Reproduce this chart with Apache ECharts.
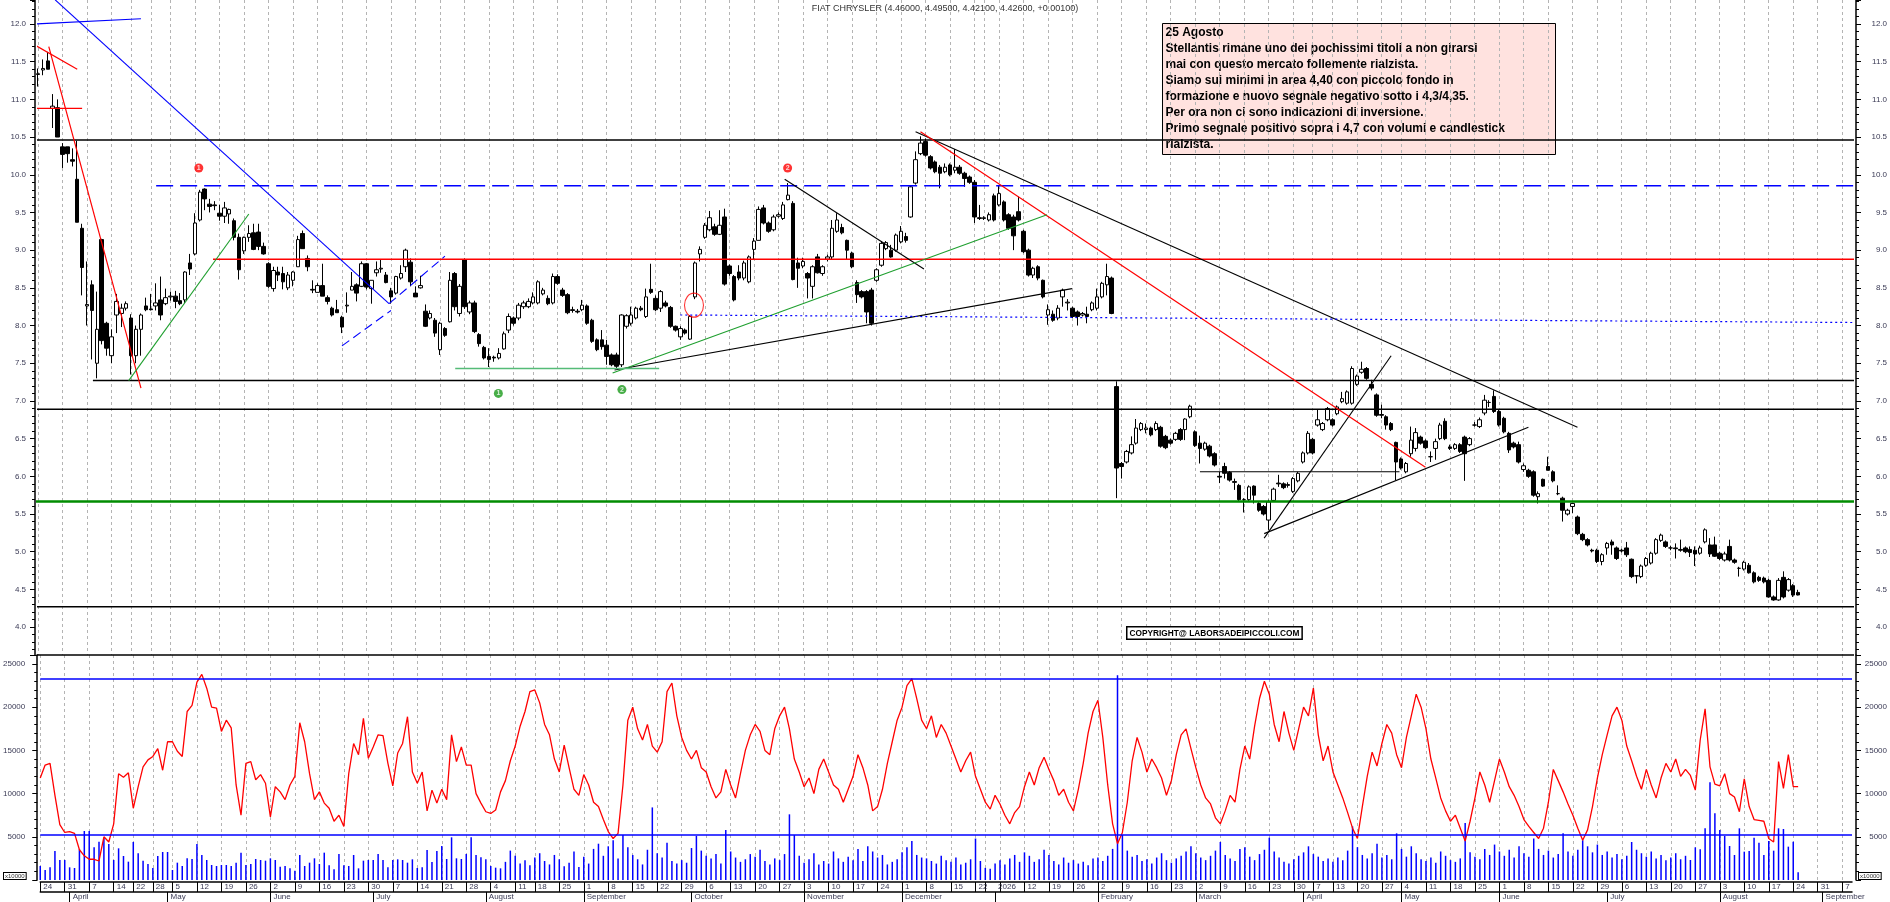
<!DOCTYPE html>
<html><head><meta charset="utf-8">
<script src="https://cdn.jsdelivr.net/npm/echarts@6.0.0/dist/echarts.min.js"></script>
<style>html,body{margin:0;padding:0;background:#fff;}#c{width:1890px;height:902px;}</style>
</head><body><div id="c"></div>
<script>
// ---------- DATA ----------
const firstDay = '2025-03-24';
const categoryCount = 371;
const holidays = ['2025-04-18','2025-04-21','2025-05-01','2025-08-15','2025-12-24','2025-12-25','2025-12-26','2025-12-31','2026-01-01','2026-04-03','2026-04-06','2026-05-01'];
const monthNames = ['','February','March','April','May','June','July','August','September','October','November','December'];
const titleName = 'FIAT CHRYSLER';

// daily candles [open, high, low, close]
const candles = [
[11.33,11.41,11.17,11.34],[11.39,11.53,11.32,11.41],[11.51,11.63,11.40,11.40],[10.88,11.07,10.62,10.91],[10.89,11.00,10.50,10.50],
[10.37,10.42,10.09,10.27],[10.37,10.37,10.16,10.28],[10.20,10.35,10.11,10.18],[9.94,10.45,9.37,9.37],[9.29,9.35,8.40,8.77],
[8.26,8.85,8.00,8.28],[8.54,8.60,7.55,8.20],[7.50,8.45,7.30,7.95],[9.14,9.15,7.75,7.80],[8.03,8.05,7.60,7.70],
[7.60,7.95,7.50,7.85],[8.14,8.42,7.90,8.32],[8.16,8.29,7.98,8.23],[8.23,8.32,8.20,8.29],[8.10,8.15,7.35,7.60],
[7.60,8.00,7.50,7.95],[7.95,8.16,7.60,8.14],[8.26,8.37,8.19,8.21],[8.22,8.42,8.20,8.21],[8.26,8.56,8.20,8.30],
[8.34,8.65,8.07,8.14],[8.29,8.49,8.27,8.37],[8.38,8.45,8.33,8.39],[8.39,8.46,8.23,8.32],[8.33,8.43,8.27,8.29],
[8.34,8.72,8.30,8.71],[8.83,8.95,8.67,8.75],[8.95,9.49,8.93,9.36],[9.40,9.80,9.38,9.77],[9.81,9.82,9.53,9.68],
[9.61,9.68,9.50,9.58],[9.60,9.65,9.53,9.59],[9.49,9.60,9.39,9.45],[9.45,9.64,9.36,9.56],[9.48,9.55,9.35,9.54],
[9.39,9.42,9.13,9.17],[9.17,9.22,8.61,8.74],[8.99,9.18,8.95,9.17],[9.17,9.33,9.11,9.22],[9.23,9.35,9.00,9.01],
[9.24,9.35,9.00,9.05],[9.05,9.10,8.94,8.95],[8.82,8.84,8.50,8.52],[8.49,8.78,8.45,8.73],[8.71,8.78,8.59,8.67],
[8.69,8.78,8.48,8.58],[8.50,8.71,8.47,8.67],[8.60,8.72,8.52,8.71],[8.78,9.19,8.78,9.14],[9.22,9.26,9.02,9.02],
[8.89,8.93,8.72,8.78],[8.48,8.60,8.43,8.47],[8.44,8.56,8.44,8.53],[8.53,8.82,8.39,8.39],[8.37,8.40,8.28,8.32],
[8.23,8.25,8.12,8.14],[8.21,8.34,8.17,8.17],[8.11,8.13,7.90,7.98],[8.26,8.44,8.17,8.27],[8.47,8.71,8.47,8.52],
[8.54,8.56,8.32,8.43],[8.52,8.85,8.51,8.82],[8.82,8.83,8.48,8.51],[8.49,8.60,8.29,8.60],[8.70,8.85,8.65,8.74],
[8.75,8.88,8.70,8.76],[8.67,8.71,8.56,8.57],[8.46,8.50,8.29,8.38],[8.43,8.66,8.41,8.65],[8.63,8.80,8.61,8.69],
[8.78,9.02,8.71,9.00],[8.84,8.89,8.52,8.58],[8.43,8.52,8.38,8.38],[8.50,8.66,8.49,8.53],[8.19,8.28,7.98,7.99],
[8.10,8.20,8.08,8.16],[8.07,8.10,7.85,7.90],[7.68,8.05,7.61,8.03],[7.96,7.98,7.85,7.87],[8.05,8.71,8.04,8.60],
[8.69,8.71,8.20,8.25],[8.16,8.55,8.12,8.52],[8.87,8.89,8.22,8.25],[8.18,8.33,8.15,8.30],[8.30,8.33,7.90,7.92],
[7.88,7.90,7.72,7.76],[7.71,7.73,7.55,7.57],[7.59,7.70,7.45,7.55],[7.58,7.60,7.52,7.57],[7.57,7.70,7.55,7.63],
[7.69,7.92,7.68,7.89],[7.94,8.16,7.90,8.12],[8.10,8.12,8.00,8.03],[8.10,8.30,8.07,8.27],[8.25,8.33,8.22,8.30],
[8.25,8.36,8.23,8.32],[8.30,8.44,8.28,8.38],[8.30,8.60,8.28,8.58],[8.42,8.50,8.40,8.47],[8.36,8.40,8.27,8.29],
[8.30,8.69,8.28,8.65],[8.65,8.68,8.54,8.56],[8.47,8.50,8.38,8.40],[8.41,8.43,8.15,8.17],[8.21,8.25,8.17,8.20],
[8.19,8.22,8.16,8.18],[8.21,8.34,8.19,8.27],[8.26,8.28,8.01,8.03],[8.07,8.09,7.77,7.79],[7.81,7.83,7.66,7.68],
[7.81,7.94,7.68,7.72],[7.74,7.81,7.48,7.59],[7.61,7.63,7.46,7.48],[7.61,7.64,7.43,7.46],[7.48,8.15,7.45,8.14],
[7.99,8.15,7.96,8.13],[8.03,8.25,8.00,8.14],[8.10,8.25,8.08,8.23],[8.23,8.26,8.19,8.21],[8.12,8.49,8.10,8.38],
[8.48,8.82,8.42,8.44],[8.36,8.40,8.19,8.21],[8.23,8.47,8.18,8.45],[8.30,8.33,8.24,8.26],[8.24,8.26,7.97,7.99],
[7.99,8.00,7.92,7.94],[7.85,7.99,7.81,7.96],[7.94,7.96,7.88,7.90],[7.82,8.14,7.81,8.12],[8.38,8.85,8.35,8.83],
[8.95,9.05,8.85,9.01],[9.17,9.36,9.15,9.33],[9.27,9.52,9.25,9.43],[9.31,9.35,9.19,9.21],[9.21,9.53,9.20,9.33],
[9.44,9.55,8.53,8.55],[8.79,8.81,8.66,8.69],[8.65,8.67,8.32,8.34],[8.71,8.80,8.60,8.63],[8.63,8.86,8.60,8.83],
[8.58,8.93,8.56,8.91],[9.01,9.16,8.87,9.12],[9.13,9.58,9.13,9.54],[9.56,9.60,9.34,9.36],[9.36,9.38,9.23,9.25],
[9.27,9.47,9.25,9.44],[9.45,9.50,9.43,9.47],[9.42,9.64,9.40,9.60],[9.67,9.89,9.66,9.73],[9.62,9.65,8.60,8.61],
[8.83,8.90,8.50,8.76],[8.79,8.90,8.76,8.85],[8.69,8.71,8.36,8.63],[8.52,8.80,8.36,8.78],[8.91,8.95,8.69,8.70],
[8.69,8.80,8.66,8.78],[8.88,8.94,8.85,8.91],[8.91,9.40,8.88,9.29],[9.25,9.49,9.23,9.40],[9.30,9.35,9.21,9.23],
[9.13,9.14,8.87,9.00],[8.96,8.98,8.76,8.78],[8.57,8.60,8.30,8.41],[8.45,8.47,8.36,8.38],[8.45,8.47,8.03,8.18],
[8.47,8.50,8.00,8.03],[8.60,8.76,8.58,8.74],[8.80,9.12,8.78,9.09],[9.02,9.12,9.00,9.10],[9.00,9.07,8.90,8.91],
[9.00,9.22,8.98,9.20],[9.11,9.32,9.09,9.25],[9.18,9.23,9.10,9.13],[9.44,9.86,9.43,9.84],[9.89,10.31,9.87,10.20],
[10.28,10.51,10.26,10.42],[10.44,10.48,10.24,10.26],[10.24,10.26,10.07,10.09],[10.17,10.19,10.02,10.04],[10.10,10.13,9.82,10.02],
[10.04,10.15,10.02,10.10],[10.13,10.15,9.98,10.00],[10.06,10.34,10.02,10.10],[10.10,10.13,10.00,10.02],[10.02,10.04,9.84,9.95],
[9.97,9.99,9.88,9.90],[9.90,9.93,9.36,9.44],[9.43,9.60,9.40,9.42],[9.42,9.45,9.40,9.43],[9.40,9.50,9.38,9.47],
[9.72,9.75,9.38,9.40],[9.60,9.86,9.58,9.75],[9.64,9.66,9.38,9.40],[9.47,9.49,9.27,9.29],[9.44,9.47,9.00,9.19],
[9.51,9.71,9.38,9.40],[9.25,9.27,8.96,8.98],[9.00,9.02,8.65,8.67],[8.67,8.78,8.63,8.76],[8.78,8.80,8.60,8.63],
[8.60,8.61,8.36,8.38],[8.14,8.28,8.01,8.21],[8.15,8.20,8.05,8.07],[8.10,8.27,8.07,8.23],[8.38,8.49,8.25,8.47],
[8.30,8.35,8.20,8.31],[8.23,8.25,8.10,8.12],[8.18,8.20,8.00,8.12],[8.14,8.18,8.12,8.16],[8.15,8.25,8.03,8.12],
[8.21,8.32,8.19,8.30],[8.23,8.49,8.20,8.38],[8.38,8.58,8.36,8.56],[8.54,8.82,8.40,8.65],[8.63,8.65,8.15,8.16],
[7.19,7.26,5.71,6.11],[6.17,6.19,5.97,6.13],[6.19,6.35,6.17,6.33],[6.31,6.53,6.29,6.42],[6.44,6.76,6.42,6.64],
[6.62,6.72,6.60,6.70],[6.62,6.70,6.57,6.64],[6.64,6.66,6.53,6.55],[6.62,6.73,6.60,6.70],[6.65,6.67,6.38,6.40],
[6.53,6.55,6.36,6.38],[6.48,6.50,6.42,6.44],[6.49,6.59,6.47,6.57],[6.62,6.64,6.47,6.49],[6.62,6.77,6.48,6.76],
[6.79,6.95,6.77,6.93],[6.59,6.61,6.39,6.41],[6.44,6.54,6.17,6.37],[6.36,6.46,6.34,6.44],[6.40,6.42,6.25,6.27],
[6.30,6.32,6.13,6.15],[6.00,6.06,5.91,5.99],[6.13,6.18,5.97,6.04],[6.05,6.07,5.93,5.95],[5.93,5.97,5.82,5.92],
[5.88,5.90,5.67,5.69],[5.69,5.71,5.52,5.69],[5.69,5.88,5.67,5.86],[5.87,5.88,5.64,5.75],[5.64,5.66,5.53,5.55],
[5.60,5.62,5.48,5.50],[5.42,5.69,5.29,5.66],[5.68,5.85,5.66,5.83],[5.91,6.02,5.86,5.90],[5.90,5.92,5.83,5.85],
[5.89,5.92,5.85,5.88],[5.80,5.99,5.78,5.97],[5.94,6.06,5.92,6.04],[6.19,6.33,6.17,6.31],[6.31,6.60,6.29,6.57],
[6.49,6.51,6.29,6.31],[6.68,6.88,6.66,6.75],[6.62,6.72,6.60,6.70],[6.75,6.92,6.73,6.90],[6.75,6.77,6.66,6.68],
[6.83,6.94,6.81,6.92],[6.99,7.12,6.97,7.03],[6.97,7.14,6.95,7.12],[6.97,7.46,6.95,7.43],[7.22,7.35,7.20,7.33],
[7.38,7.52,7.36,7.42],[7.43,7.45,7.28,7.30],[7.22,7.28,7.14,7.17],[7.08,7.10,6.79,6.81],[6.82,6.95,6.77,6.81],
[6.79,6.81,6.62,6.68],[6.70,6.72,6.60,6.62],[6.45,6.46,5.95,6.19],[6.23,6.25,6.09,6.11],[6.06,6.19,6.04,6.17],
[6.30,6.66,6.26,6.48],[6.37,6.64,6.33,6.58],[6.52,6.54,6.42,6.44],[6.47,6.49,6.36,6.38],[6.26,6.33,6.19,6.26],
[6.37,6.50,6.22,6.46],[6.50,6.71,6.48,6.68],[6.73,6.77,6.48,6.50],[6.39,6.42,6.35,6.37],[6.37,6.44,6.35,6.42],
[6.42,6.44,6.31,6.33],[6.52,6.54,5.94,6.30],[6.42,6.52,6.40,6.50],[6.68,6.72,6.66,6.68],[6.66,6.78,6.64,6.75],
[6.84,7.08,6.81,7.01],[6.98,7.01,6.92,6.98],[7.06,7.14,6.84,6.86],[6.86,6.88,6.66,6.68],[6.77,6.79,6.57,6.59],
[6.57,6.59,6.31,6.35],[6.44,6.46,6.37,6.39],[6.42,6.46,6.17,6.19],[6.09,6.17,6.06,6.14],[6.08,6.10,5.98,6.00],
[6.06,6.08,5.73,5.75],[5.73,5.80,5.64,5.77],[5.96,5.97,5.86,5.87],[6.13,6.26,6.08,6.08],[6.06,6.08,5.92,5.94],
[5.77,5.88,5.75,5.77],[5.71,5.73,5.40,5.55],[5.50,5.57,5.48,5.55],[5.60,5.65,5.51,5.64],[5.46,5.48,5.22,5.24],
[5.23,5.25,5.14,5.16],[5.16,5.18,5.07,5.09],[5.02,5.04,4.99,5.01],[5.02,5.04,4.85,4.87],[4.87,4.98,4.82,4.96],
[5.05,5.13,4.96,5.11],[5.13,5.16,4.96,5.09],[5.05,5.07,4.89,4.91],[5.02,5.04,4.99,5.01],[5.05,5.13,4.93,4.96],
[4.90,4.91,4.65,4.67],[4.68,4.69,4.58,4.68],[4.67,4.83,4.65,4.81],[4.82,4.93,4.80,4.91],[4.85,5.00,4.83,4.98],
[4.98,5.18,4.96,5.16],[5.15,5.24,5.13,5.22],[5.13,5.15,5.05,5.07],[5.05,5.08,5.02,5.05],[5.05,5.11,4.91,5.04],
[5.03,5.16,5.00,5.02],[5.05,5.07,4.98,5.00],[5.03,5.07,4.93,4.99],[5.02,5.07,4.81,4.97],[4.98,5.08,4.96,5.05],
[5.13,5.31,5.11,5.29],[5.09,5.18,4.93,4.97],[5.09,5.20,4.93,4.94],[4.98,5.00,4.89,4.91],[4.89,5.00,4.87,4.97],
[5.07,5.16,4.87,4.89],[4.89,4.91,4.84,4.86],[4.78,4.80,4.67,4.78],[4.77,4.88,4.75,4.86],[4.82,4.85,4.71,4.72],
[4.72,4.74,4.58,4.60],[4.66,4.68,4.60,4.62],[4.65,4.67,4.58,4.60],[4.62,4.64,4.39,4.40],[4.40,4.42,4.35,4.36],
[4.36,4.65,4.35,4.62],[4.66,4.74,4.38,4.40],[4.49,4.65,4.47,4.63],[4.55,4.57,4.40,4.425],[4.46,4.495,4.421,4.426]
];

// daily volume (x10000 units as on the chart axis)
const volume = [
1620,1157,1466,3356,2315, 2315,1466,1389,3549,5671, 5671,3781,4437,4861,4166, 2315,3665,2778,2122,4398,
3086,2238,1852,1389,2778, 3241,3241,1157,2006,1620, 2508,2431,4166,2894,2315, 1736,1620,1736,1736,1620,
2006,3164,1736,1852,2431, 2315,2238,2508,2315,1543, 1620,1350,1080,2894,1620, 2006,2508,1852,3164,1697,
1235,3009,1697,1620,2894, 1350,2238,2315,2315,3009, 2315,1466,2315,2392,2315, 2006,2392,1389,1466,3472,
2083,3356,3935,2431,4938, 2508,2431,3009,4938,2894, 2623,2392,1620,1427,1350,
2100,3400,2800,1900,2300,1700, 2600,3100,2200,1800,2900, 2400,1600,2000,3300,1500, 2700,1900,3600,4200,2800,
3900,4600,2500,5200,3800, 2900,2400,1800,3500,8400, 3100,2600,4300,2200,1900, 2300,2000,3700,5100,3400,
2800,2500,3000,1900,5800, 3300,2600,2100,2400,3000, 2700,3500,2200,1800,2500, 2300,3000,7600,5200,2800,
2000,2400,3100,1800,2200, 1900,3300,2500,2100,2700, 2300,3600,2200,3900,3300, 2600,2900,1800,2100,2400,
3200,3800,4500,2900,2600, 2500,2200,1900,2800,2300, 2100,2600,1800,2000,2400, 4800,2200,1400,1300,1900,
2300,1800,2500,2900,2100, 3200,2800,2100,2400,3500, 2900,2200,1800,2600,2000, 2300,1900,2100,1700,2500,
2600,2200,2800,3600,23700, 5200,3400,2700,2900,2200, 2400,1900,2600,3100,2300, 2000,2500,2800,3300,3900,
3100,2600,2300,2800,3400, 4400,2900,2500,2200,3600, 3800,2700,2300,3000,3500, 4900,3300,2600,2100,1900,
2400,2800,3200,3900, 3000,2700,2200,2500, 2100,2600,2300,3400,6200, 3800,2900,2500,3100,4200, 2600,2900,2400,5400,
3600,2700,3900,3100,2400, 2200,2600,2000,3300,2800, 2300,2100,2500,6600,3200, 2700,2400,3600,2900,4100,
3300,2800,3500,2600,3900, 3100,2700,4800,3600,2900, 3400,2600,3000,5400,3300, 2800,3500,4600,3900,3200,
4100,2900,3300,2600,3000, 2400,2800,4400,3500,3100, 2700,3300,2500,2900,2300, 2600,3100,2400,2800,
2315,3781,3549,5980,11304, 7716,5787,5093,3935,2894, 5980,3279,3356,4900,4321, 2894,4514,3395,5980,5903,
3858,4437,887
];

// red oscillator line drawn in the volume panel
const oscillator = [
11800,13300,13500,9800,6400, 5500,5600,5400,3500,2800, 2400,2400,2200,5000,4400, 6500,12300,11900,12400,8300,
10800,13100,13900,14300,15200, 12700,16000,16000,14900,14300, 19500,20200,22900,23800,22200, 20000,19900,17200,18500,17600,
11000,7500,13500,13700,11600, 12200,11200,7300,10800,10200, 9300,11000,12000,18200,16000, 12300,9300,10200,8900,8300,
6800,7500,6200,12300,15800, 14500,18700,14100,15400,16800, 16700,13500,10900,14700,15800, 18900,12500,11200,12500,8000,
10400,8900,10500,9300,16800, 13700,15400,13300,13300,10000, 8900,7900,7700,8100,10200, 11500,13800,15500,17800,19500,
21800,22000,20500,18000,16800, 14000,12500,15600,13000,10500, 9800,12200,11000,9000,8500, 7000,5600,4800,5400,11000,
18500,20000,17500,16200,18000, 15500,14800,16000,21800,22800, 19000,16500,15000,14000,15000, 13000,12500,10800,9500,10200,
12800,11000,9500,12300,15000, 16800,18000,17200,15000,14500, 17500,19000,20000,17500,14000, 12500,10800,11800,10000,12800,
14000,12500,11000,10500,9000, 10500,12000,14500,13000,11000, 8000,8500,10500,13500,16000, 18500,20000,22500,23300,21000,
18500,17500,19000,16500,18000, 17000,15500,14000,12500,13800, 14800,12000,10500,9000,8200, 9800,8800,7500,6500,7800,
8500,10800,12500,11000,13000, 14200,12800,11500,9800,10500, 9000,8000,10500,13500,17000, 19500,20800,16500,11000,6500,
4200,5500,9000,13800,16500, 14800,12500,14000,13000,11800, 9800,11500,14500,16800,17500, 15200,13000,11000,9500,8800,
7200,6500,8000,9800,9000, 12800,15500,14000,17800,21000, 23000,21500,18000,16000,19500, 17000,15000,17500,20000,19000,
22200,16800,13800,15500,12500, 11000,9500,7800,6000,4800, 8500,12000,14800,13200,15800, 18000,17000,14500,13000,16500,
19000,21500,20000,17500,14000, 11800,9500,8000,6800,7500, 6000,4500,6800,9500,12500, 11000,9000,11500,14000,12500,
10800,9800,8500,7000,6200, 5500,4800,6000,9000,12800, 11500,10200,8800,7500,6000, 4600,5800,8500,11800,14500,
16800,19000,20000,18500,15500, 13800,12000,10500,12800,11000, 9500,11800,13500,12500,14000, 12000,12800,12100,10400,16200,
19800,13100,11100,10900,12300, 10000,9600,7900,11700,8500, 7000,6900,6800,4800,4400, 13700,10600,14500,10800,10800
];

// horizontal price levels [start index, price]
const blackLevels = [[-0.6,10.46],[11.2,7.27],[-0.6,6.89],[-0.6,4.27]];
const redLevels = [[35.7,8.88]];
const blueDashedLevels = [[24.1,9.855]];
const greenLevels = [[-0.6,5.665]];
// trend lines [x1, price1, x2, price2] in day-index units
const blackTrend = [[152.3,9.94,180.7,8.75],[117.6,7.41,210.9,8.49],[179,10.57,314,6.65],[250.1,5.18,276,7.60],[250.1,5.24,304,6.65],[237,6.06,277.7,6.06]];
const redTrend = [[-0.6,11.72,8,11.4],[-0.6,10.88,9,10.88],[2.2,11.7,21,7.17],[180,10.57,283,6.12]];
const blueTrend = [[-0.6,12.0,21,12.07],[3.5,12.32,71.6,8.29]];
const blueDashTrend = [[71.6,8.29,83,8.92],[62,7.73,72,8.2]];
const greenTrend = [[18.5,7.27,43,9.48],[117.2,7.37,205.8,9.47]];
const lightGreenTrend = [[85.1,7.43,126.7,7.43]];
const blueDotTrend = [[131,8.14,370.8,8.04]];
// numbered signals [x, price, label]
const redSignals = [[32.8,10.09,'1'],[152.9,10.09,'2']];
const greenSignals = [[93.9,7.10,'1'],[119.1,7.15,'2']];
const circledArea = [[133.8,8.27]];
// volume panel levels
const volumeLevels = [23260, 5200];

const noteLines = [
'25 Agosto',
'Stellantis rimane uno dei pochissimi titoli a non girarsi',
'mai con questo mercato follemente rialzista.',
'Siamo sui minimi in area 4,40 con piccolo fondo in',
'formazione e nuovo segnale negativo sotto i 4,3/4,35.',
'Per ora non ci sono indicazioni di inversione.',
'Primo segnale positivo sopra i 4,7 con volumi e candlestick',
'rialzista.'
];
const copyrightText = 'COPYRIGHT@ LABORSADEIPICCOLI.COM';
const unitText = 'x10000';

// ---------- BUILD ----------
function tradingDays(start, count, hol) {
  const out = []; const d = new Date(start + 'T00:00:00Z');
  while (out.length < count) {
    const dow = d.getUTCDay(); const iso = d.toISOString().slice(0, 10);
    if (dow !== 0 && dow !== 6 && hol.indexOf(iso) < 0) out.push(iso);
    d.setUTCDate(d.getUTCDate() + 1);
  }
  return out;
}
const dates = tradingDays(firstDay, categoryCount, holidays);
const dt = dates.map(s => new Date(s + 'T00:00:00Z'));
const mondayKey = d => { const x = new Date(d); x.setUTCDate(x.getUTCDate() - (x.getUTCDay() + 6) % 7); return x.toISOString().slice(0,10); };
const isWeekStart = dates.map((s, i) => i === 0 || mondayKey(dt[i]) !== mondayKey(dt[i-1]));
const isMonthStart = dates.map((s, i) => i > 0 && dt[i].getUTCMonth() !== dt[i-1].getUTCMonth());
const isYearStart = dates.map((s, i) => i > 0 && dt[i].getUTCFullYear() !== dt[i-1].getUTCFullYear());
const yearIdx = isYearStart.map((b, i) => b ? i : -1).filter(i => i >= 0);
const nearYear = i => yearIdx.some(y => Math.abs(y - i) <= 3);
const showDayLabel = dates.map((s, i) => isYearStart[i] || (isWeekStart[i] && !nearYear(i)));
const dayLabel = i => isYearStart[i] ? String(dt[i].getUTCFullYear()) : String(dt[i].getUTCDate());
const monthLabel = i => monthNames[dt[i].getUTCMonth()];

const PRICE_MAX = 12.318, PRICE_MIN = 3.63, VOL_MAX = 26040;
const X_RIGHT = 370.8;
const FONT = '"Liberation Sans", Arial, sans-serif';
const LABEL_COLOR = '#3a3a55';

const last = candles[candles.length - 1], prev = candles[candles.length - 2];
const chg = last[3] - prev[3];
const titleText = `${titleName} (${last[0].toFixed(5)}, ${last[1].toFixed(5)}, ${last[2].toFixed(5)}, ${last[3].toFixed(5)}, ${chg >= 0 ? '+' : ''}${chg.toFixed(5)})`;

function seg(list, style, clip, z) {
  return list.map(s => ({
    type: 'line', xAxisIndex: 1, yAxisIndex: 0, data: [[s[0], s[1]], [s[2], s[3]]],
    symbol: 'none', silent: true, clip: clip, lineStyle: style, z: z || 3, animation: false
  }));
}
const lev = (list) => list.map(l => [l[0], l[1], X_RIGHT, l[1]]);

const priceFmt = v => { const r = Math.round(v * 2) / 2; return (Math.abs(v - r) < 1e-6 && v > 3.99 && v < 12.01) ? v.toFixed(1) : ''; };
const volFmt = v => (v > 0 && v <= 25000 && Math.abs(v / 5000 - Math.round(v / 5000)) < 1e-6) ? String(v) : '';

function yAx(grid, pos, min, max, split, step, fmt, offset, margin, align) {
  return {
    type: 'value', gridIndex: grid, position: pos, offset: offset, min: min, max: max,
    splitNumber: split, minInterval: step, maxInterval: step,
    axisLine: { show: true, onZero: false, lineStyle: { color: '#000', width: 1.5 } },
    axisTick: { show: true, inside: false, length: 5, lineStyle: { color: '#000', width: 1 } },
    minorTick: { show: true, splitNumber: 5, length: 3, lineStyle: { color: '#000', width: 1 } },
    splitLine: { show: false }, minorSplitLine: { show: false },
    axisLabel: { fontSize: 8, color: LABEL_COLOR, fontFamily: FONT, formatter: fmt, margin: margin, align: align }
  };
}
const gridSplit = { show: true, interval: (i) => isWeekStart[i], lineStyle: { color: '#b4b4b4', type: [3, 3], width: 1 } };

const option = {
  animation: false,
  backgroundColor: '#ffffff',
  title: { text: titleText, left: 'center', top: 4, padding: 0,
    textStyle: { fontSize: 9, fontWeight: 'normal', color: '#333', fontFamily: FONT } },
  grid: [
    { left: 38, right: 38, top: 0, height: 655 },
    { left: 38, right: 38, top: 655, height: 225 }
  ],
  xAxis: [
    { type: 'category', gridIndex: 0, data: dates, boundaryGap: false,
      axisLine: { show: false }, axisTick: { show: false }, axisLabel: { show: false }, splitLine: gridSplit },
    { type: 'value', gridIndex: 0, min: 0, max: categoryCount - 1, show: false },
    { type: 'category', gridIndex: 1, data: dates, boundaryGap: false, position: 'bottom', offset: 2,
      axisLine: { show: true, onZero: false, lineStyle: { color: '#000', width: 1.5 } },
      axisTick: { show: true, interval: (i) => isWeekStart[i], length: 10, lineStyle: { color: '#000', width: 1 } },
      axisLabel: { show: true, interval: (i) => showDayLabel[i], formatter: (v, i) => dayLabel(i),
        align: 'left', margin: 1, padding: [0, 0, 0, 3], fontSize: 8, color: LABEL_COLOR, fontFamily: FONT },
      splitLine: gridSplit },
    { type: 'category', gridIndex: 1, data: dates, boundaryGap: false, position: 'bottom', offset: 12,
      axisLine: { show: true, onZero: false, lineStyle: { color: '#000', width: 1.5 } },
      axisTick: { show: true, interval: (i) => isMonthStart[i], length: 10, lineStyle: { color: '#000', width: 1 } },
      axisLabel: { show: true, interval: (i) => isMonthStart[i], formatter: (v, i) => monthLabel(i),
        align: 'left', margin: 1, padding: [0, 0, 0, 3], fontSize: 8, color: LABEL_COLOR, fontFamily: FONT },
      splitLine: { show: false } }
  ],
  yAxis: [
    yAx(0, 'left', PRICE_MIN, PRICE_MAX, 17, 0.5, priceFmt, 3, 9, 'right'),
    yAx(0, 'right', PRICE_MIN, PRICE_MAX, 17, 0.5, priceFmt, 4, 31, 'right'),
    yAx(1, 'left', 0, VOL_MAX, 5, 5000, volFmt, 3, 12, 'right'),
    yAx(1, 'right', 0, VOL_MAX, 5, 5000, volFmt, 4, 31, 'right')
  ],
  graphic: [
    { type: 'group', left: 1162, top: 23, z: 100, children: [
      { type: 'rect', shape: { x: 0, y: 0, width: 393, height: 131 }, style: { fill: '#ffe2df', stroke: '#000', lineWidth: 1 } },
      { type: 'text', x: 3, y: 1, style: { text: noteLines.join('\n'), font: 'bold 12px ' + FONT, fill: '#000', lineHeight: 16 } }
    ] },
    { type: 'text', left: 1126, top: 626, z: 100, style: { text: copyrightText, font: 'bold 8.3px ' + FONT, fill: '#000',
      backgroundColor: '#fff', borderColor: '#000', borderWidth: 1.5, padding: [2, 2, 1, 2] } },
    { type: 'text', left: 3, top: 872, z: 100, style: { text: unitText, font: '6px ' + FONT, fill: '#333',
      backgroundColor: '#fff', borderColor: '#000', borderWidth: 1, padding: [0, 1, 0, 1] } },
    { type: 'text', left: 1858, top: 872, z: 100, style: { text: unitText, font: '6px ' + FONT, fill: '#333',
      backgroundColor: '#fff', borderColor: '#000', borderWidth: 1, padding: [0, 1, 0, 1] } }
  ],
  series: [].concat(
    [{ type: 'candlestick', xAxisIndex: 0, yAxisIndex: 0, barWidth: 4, z: 2,
       data: candles.map(c => [c[0], c[3], c[2], c[1]]),
       itemStyle: { color: '#ffffff', color0: '#000000', borderColor: '#000000', borderColor0: '#000000', borderWidth: 1 } }],
    seg(lev(blackLevels), { color: '#000', width: 1.5 }, false),
    seg([[-0.6, PRICE_MIN, X_RIGHT, PRICE_MIN]], { color: '#000', width: 1.5 }, false),
    seg(lev(redLevels), { color: '#ff0000', width: 1.5 }, false),
    seg(lev(blueDashedLevels), { color: '#0000ff', width: 1.5, type: [17, 7] }, false),
    seg(lev(greenLevels), { color: '#008c00', width: 2.5 }, false),
    seg(blackTrend, { color: '#000', width: 1.1 }, false),
    seg(redTrend, { color: '#ff0000', width: 1.2 }, true),
    seg(blueTrend, { color: '#0000ff', width: 1.1 }, true),
    seg(blueDashTrend, { color: '#0000ff', width: 1.1, type: [9, 5] }, true),
    seg(greenTrend, { color: '#1f9f2f', width: 1.1 }, true),
    seg(lightGreenTrend, { color: '#55bb77', width: 1.5 }, true),
    seg(blueDotTrend, { color: '#0000ff', width: 1.2, type: [2, 3] }, false),
    [{ type: 'scatter', xAxisIndex: 1, yAxisIndex: 0, z: 5, symbol: 'circle', symbolSize: 9, silent: true,
       data: redSignals.map(s => ({ value: [s[0], s[1]], name: s[2] })), itemStyle: { color: '#ff0000' },
       label: { show: true, position: 'inside', formatter: p => p.name, color: '#fff', fontSize: 7, fontWeight: 'bold', fontFamily: FONT } },
     { type: 'scatter', xAxisIndex: 1, yAxisIndex: 0, z: 5, symbol: 'circle', symbolSize: 9, silent: true,
       data: greenSignals.map(s => ({ value: [s[0], s[1]], name: s[2] })), itemStyle: { color: '#1a9a1a' },
       label: { show: true, position: 'inside', formatter: p => p.name, color: '#fff', fontSize: 7, fontWeight: 'bold', fontFamily: FONT } },
     { type: 'scatter', xAxisIndex: 1, yAxisIndex: 0, z: 5, symbol: 'circle', symbolSize: [19, 24], silent: true,
       data: circledArea, itemStyle: { color: 'rgba(0,0,0,0)', borderColor: '#ff0000', borderWidth: 1.2 } },
     { type: 'bar', xAxisIndex: 2, yAxisIndex: 2, barWidth: 1.5, data: volume, z: 2,
       itemStyle: { color: '#0000ff' },
       markLine: { silent: true, symbol: ['none', 'none'], label: { show: false },
         lineStyle: { color: '#0000ff', width: 1.5, type: 'solid' }, data: volumeLevels.map(v => ({ yAxis: v })) } },
     { type: 'line', xAxisIndex: 2, yAxisIndex: 2, data: oscillator, symbol: 'none', z: 3,
       lineStyle: { color: '#ff0000', width: 1.3 } }]
  )
};
const chart = echarts.init(document.getElementById('c'), null, { renderer: 'canvas' });
chart.setOption(option);
</script>
</body></html>
